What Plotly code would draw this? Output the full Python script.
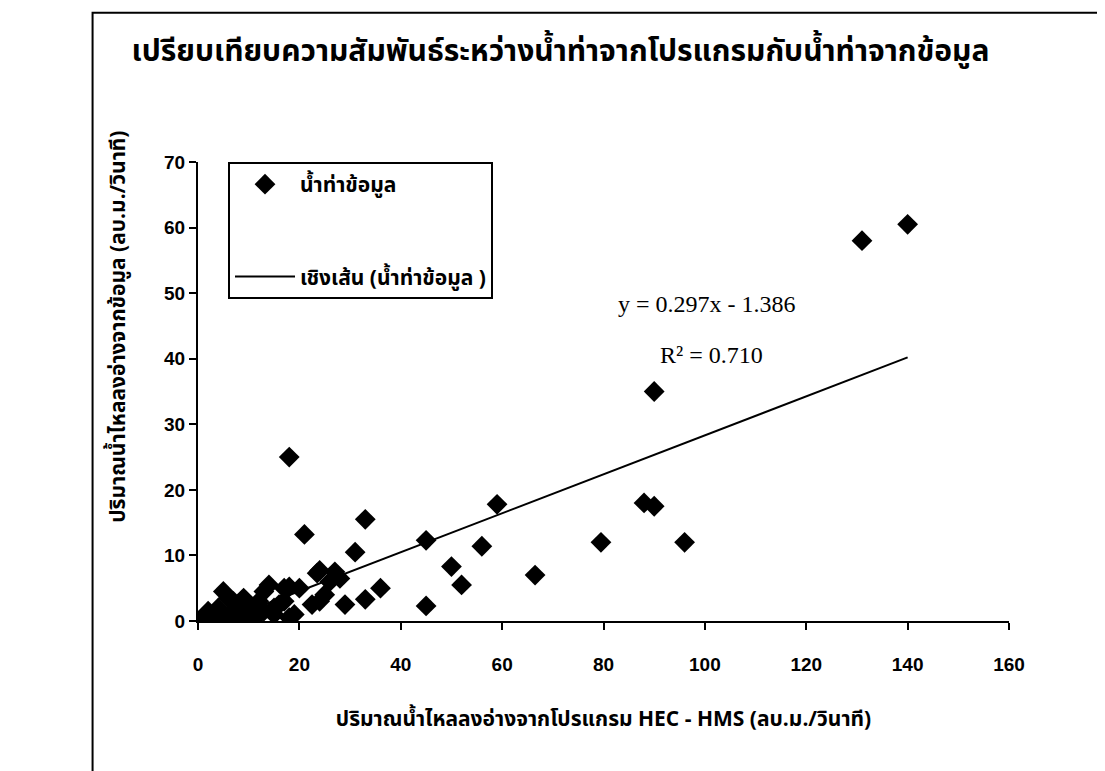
import plotly.graph_objects as go

# Observed data (HEC-HMS simulated vs. observed inflow, m3/s)
x_sim = [140, 131, 90, 18, 88, 90, 59, 33, 21, 45, 79.5, 96, 56, 31, 50, 66.5, 52, 36,
         45, 33, 29, 27, 28, 26, 24, 23.5, 25, 24, 22.5, 20, 18, 17, 17, 16, 18, 19,
         14, 13, 12, 11, 10, 9, 8, 7, 6, 5, 4, 3, 2, 1.5, 1, 0.5, 0, 6, 8, 10, 12,
         13, 15, 15, 3, 5, 7]
y_obs = [60.5, 58, 35, 25, 18, 17.5, 17.8, 15.5, 13.2, 12.3, 12, 12, 11.4, 10.5, 8.3, 7, 5.5, 5,
         2.3, 3.3, 2.5, 7.5, 6.5, 6, 7.7, 7.3, 4, 3, 2.5, 5, 5.2, 5, 3, 2.5, 0.5, 1,
         5.5, 4.5, 3, 2, 1.5, 3.5, 2.5, 3, 3.5, 4.5, 2, 1, 1.5, 0.5, 0, 0.2, 0, 0.5, 0.3, 0.5, 1,
         1.5, 2, 1, 0.3, 1, 1.5]

# Linear trendline reported on the chart
slope = 0.297
intercept = -1.386
trend_x = [0, 140]
trend_y = [slope * v + intercept for v in trend_x]

x_ticks = [0, 20, 40, 60, 80, 100, 120, 140, 160]
y_ticks = [0, 10, 20, 30, 40, 50, 60, 70]

title_text = "เปรียบเทียบความสัมพันธ์ระหว่างน้ำท่าจากโปรแกรมกับน้ำท่าจากข้อมูล"
x_title = "ปริมาณน้ำไหลลงอ่างจากโปรแกรม HEC - HMS (ลบ.ม./วินาที)"
y_title = "ปริมาณน้ำไหลลงอ่างจากข้อมูล (ลบ.ม./วินาที)"
series_name = "น้ำท่าข้อมูล"
trend_name = "เชิงเส้น (น้ำท่าข้อมูล )"

thai_font = "Noto Sans Thai, Noto Sans, DejaVu Sans, sans-serif"
tick_font = dict(family="Liberation Sans, Arial", size=19, color="black", weight="bold")

fig = go.Figure()
fig.add_trace(go.Scatter(
    x=x_sim, y=y_obs, mode="markers", name=series_name, legendgroup="a",
    marker=dict(symbol="diamond", size=16, color="black"),
))
fig.add_trace(go.Scatter(
    x=trend_x, y=trend_y, mode="lines", name=trend_name, legendgroup="b",
    line=dict(color="black", width=2),
))

fig.update_layout(
    width=1105, height=771,
    paper_bgcolor="white", plot_bgcolor="white",
    margin=dict(l=190, r=104, t=154, b=158),
    title=dict(text=title_text, x=0.5, xanchor="center", y=0.945, yanchor="middle",
               font=dict(family=thai_font, size=30, color="black", weight="bold")),
    showlegend=True,
    legend=dict(x=0.037, y=1.0, xanchor="left", yanchor="top",
                bordercolor="black", borderwidth=2, bgcolor="white",
                font=dict(family=thai_font, size=21, color="black", weight="bold"),
                tracegroupgap=62, traceorder="grouped", itemwidth=60,
                itemsizing="trace"),
    xaxis=dict(range=[0, 160], tickvals=x_ticks, showgrid=False, zeroline=False,
               showline=True, linecolor="black", linewidth=2, ticks="outside",
               ticklen=7, tickcolor="black", tickwidth=2, ticklabelstandoff=18,
               tickfont=tick_font,
               title=dict(text=x_title, standoff=38,
                          font=dict(family=thai_font, size=21, color="black", weight="bold"))),
    yaxis=dict(range=[0, 70], tickvals=y_ticks, showgrid=False, zeroline=False,
               showline=True, linecolor="black", linewidth=2, ticks="outside",
               ticklen=7, tickcolor="black", tickwidth=2,
               tickfont=tick_font),
)

# y-axis title placed as in the reference (offset toward the top of the axis)
fig.add_annotation(x=-0.098, y=0.64, xref="paper", yref="paper", showarrow=False,
                   text=y_title, textangle=-90, xanchor="center", yanchor="middle",
                   font=dict(family=thai_font, size=21, color="black", weight="bold"))

fig.add_annotation(x=0.628, y=0.69, xref="paper", yref="paper", showarrow=False,
                   text="y = 0.297x - 1.386", xanchor="center", yanchor="middle",
                   font=dict(family="Liberation Serif, Times New Roman", size=24, color="black"))
fig.add_annotation(x=0.633, y=0.58, xref="paper", yref="paper", showarrow=False,
                   text="R² = 0.710", xanchor="center", yanchor="middle",
                   font=dict(family="Liberation Serif, Times New Roman", size=24, color="black"))

# outer chart frame
fig.add_shape(type="rect", xref="paper", yref="paper",
              x0=-0.13, x1=1.11, y0=-0.5, y1=1.325,
              line=dict(color="black", width=2), fillcolor="rgba(0,0,0,0)")

fig.write_html("out.html")
